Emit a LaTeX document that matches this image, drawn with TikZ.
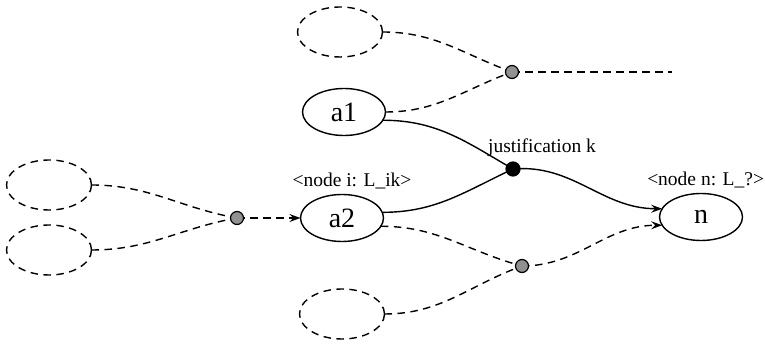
\documentclass[tikz,border=0pt]{standalone}
\usepackage{fontspec}
\setmainfont{Liberation Serif}
\usetikzlibrary{shapes.geometric,arrows.meta}
\begin{document}
\begin{tikzpicture}[x=1pt,y=1pt,
  every node/.style={inner sep=0pt, outer sep=0pt},
  conn/.style={line width=1.4pt},
  dashline/.style={conn, dash pattern=on 7.5pt off 5.5pt},
  tip/.style={-{Stealth[length=11pt,width=8pt,inset=4pt]}},
  state/.style={draw, ellipse, line width=1.4pt, minimum width=83pt, minimum height=47pt,
    font=\fontsize{28}{30}\selectfont},
  ghost/.style={draw, ellipse, dashline, minimum width=85pt, minimum height=50pt},
  hub/.style={draw, circle, line width=1.2pt, minimum size=13pt, fill=gray!85!black!75},
  jhub/.style={draw, circle, line width=1.2pt, minimum size=14pt, fill=black},
  lbl/.style={font=\fontsize{19.5}{21}\selectfont}
]
\useasboundingbox (0,0) rectangle (765,347);

% named nodes
\node[state] (a1) at (344,235) {a1};
\node[state] (a2) at (342,129) {a2};
\node[state] (n)  at (701,130) {n};

\node[ghost] (gt)  at (340,315) {};
\node[ghost] (gl1) at (49,162) {};
\node[ghost] (gl2) at (49,97) {};
\node[ghost] (gb)  at (342,33) {};

\coordinate (open) at (672,275);

% connectors (drawn before the dots so the dots sit on top)
\draw[dashline] (gt.east) to[out=0,in=160] (512,275) coordinate (ht);
\draw[dashline] (a1.east) to[out=0,in=200] (ht);
\draw[dashline] (ht) -- (open);

\draw[conn] (a1.-12) to[out=0,in=150] (513,178) coordinate (hj);
\draw[conn] (a2.8) to[out=0,in=205] (hj);
\draw[conn,tip] (hj) to[out=5,in=180] (n.168);

\draw[dashline] (gl1.east) to[out=0,in=170] (237,129) coordinate (hl);
\draw[dashline] (gl2.east) to[out=0,in=190] (hl);
\draw[dashline,tip] (hl) -- (a2.west);

\draw[dashline] (a2.-12) to[out=0,in=165] (522,81) coordinate (hb);
\draw[dashline] (gb.east) to[out=0,in=200] (hb);
\draw[dashline,tip] (hb) to[out=0,in=180] (n.192);

% junction dots
\node[hub]  (dt) at (ht) {};
\node[hub]  (dl) at (hl) {};
\node[hub]  (db) at (hb) {};
\node[jhub] (dj) at (hj) {};

% labels
\node[lbl] (tj) at (542,199) {justification k};
\node[lbl] (ti) at (352,166) {<node i: L\_ik>};
\node[lbl, anchor=east] (tn) at (764,167) {<node n: L\_?>};
\end{tikzpicture}
\end{document}
